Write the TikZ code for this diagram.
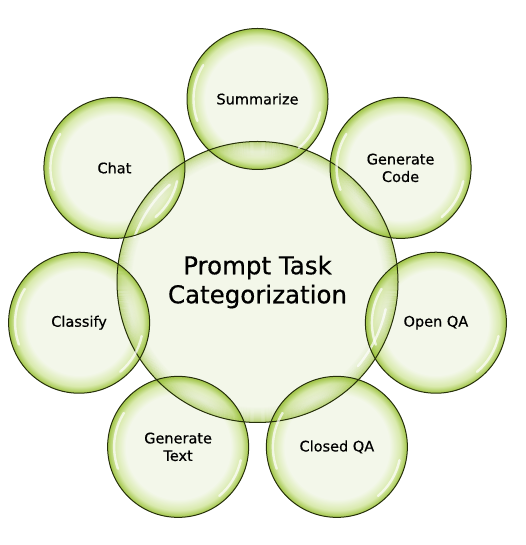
\documentclass[tikz,border=0pt]{standalone}
\usepackage{fontspec}
\setmainfont{DejaVu Sans}
\newfontfamily\labfont[FakeBold=0.5]{DejaVu Sans}
\usetikzlibrary{calc}
\definecolor{bpale}{HTML}{F1F6E6}
\definecolor{bmid}{HTML}{D2E69E}
\definecolor{bedge}{HTML}{98C034}
\definecolor{bline}{HTML}{26300A}
\pgfdeclareradialshading{bubS}{\pgfpoint{0bp}{0bp}}{color(0bp)=(bpale); color(18.6bp)=(bpale); color(22.6bp)=(bmid); color(24.7bp)=(bedge); color(25bp)=(bedge); color(50bp)=(bedge)}
\tikzset{
  bubble/.style={circle, inner sep=0pt, fill opacity=0.85, text opacity=1},
  small/.style={bubble, shading=bubS, minimum size=141pt},
  big/.style={circle, inner sep=0pt, minimum size=281pt},
  rim/.style={draw=bline, line width=1pt},
  band/.style={draw=bedge, line width=1.1pt},
  hl/.style={white, line width=2.4pt, line cap=round, opacity=0.7},
  lbl/.style={font=\labfont\fontsize{14.5}{17.5}\selectfont, align=center, text=black},
  title/.style={font=\labfont\fontsize{24.5}{29}\selectfont, align=center, text=black}
}
\begin{document}
\begin{tikzpicture}[x=1pt,y=1pt]
\useasboundingbox (0,0) rectangle (525,545);
\coordinate (C) at (257.5,263);
\node[big] (center) at (C) {};
\fill[bpale, fill opacity=0.88] (center.center) circle[radius=140.5];
\foreach \n/\a in {sum/90, chat/141.43, cls/192.86, gtext/244.29, cqa/295.71, oqa/347.14, gcode/38.57}{
  \node[small] (\n) at ($(C)+(\a:183)$) {};
}
\foreach \rr/\op in {140/0.55, 139/0.48, 138/0.42, 137/0.36, 136/0.31, 135/0.26, 134/0.22, 133/0.18, 132/0.15, 131/0.12, 130/0.09, 129/0.07, 128/0.05, 127/0.035, 126/0.02}{
  \draw[band, draw opacity=\op] (center.center) circle[radius=\rr];
}
\draw[rim] (center.center) circle[radius=140.5];
\draw[hl] (C) ++(132:131) arc[start angle=132,end angle=160,radius=131];
\draw[hl] (C) ++(-12:131) arc[start angle=-12,end angle=-40,radius=131];
\foreach \n in {sum, chat, cls, gtext, cqa, oqa, gcode}{
  \draw[rim] (\n.center) circle[radius=70.5];
  \draw[hl] (\n) ++(148:64) arc[start angle=148,end angle=200,radius=64];
  \draw[hl] (\n) ++(-12:64) arc[start angle=-12,end angle=-50,radius=64];
}
\node[title] (t0) at (C) {Prompt Task\\Categorization};
\node[lbl] (t1) at (sum) {Summarize};
\node[lbl] (t2) at (chat) {Chat};
\node[lbl] (t3) at (cls) {Classify};
\node[lbl] (t4) at (gtext) {Generate\\Text};
\node[lbl] (t5) at (cqa) {Closed QA};
\node[lbl] (t6) at (oqa) {Open QA};
\node[lbl] (t7) at (gcode) {Generate\\Code};
\end{tikzpicture}
\end{document}
